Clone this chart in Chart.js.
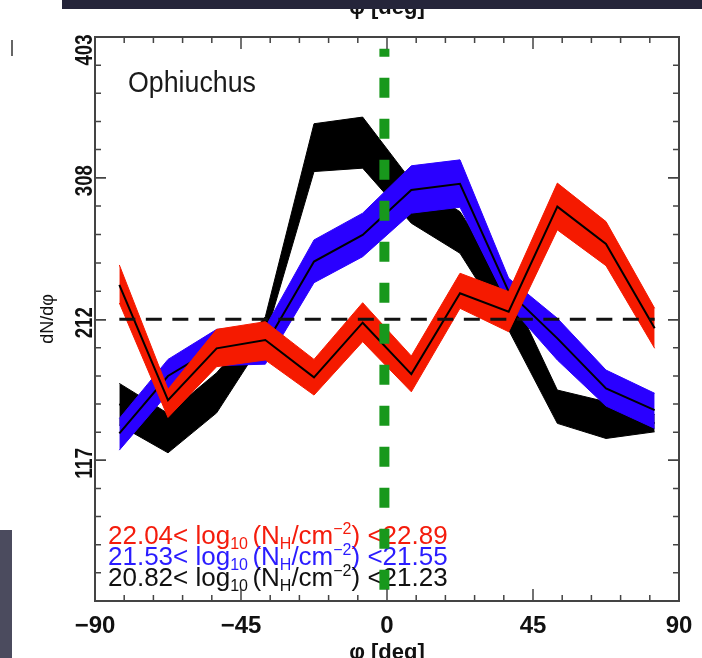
<!DOCTYPE html>
<html lang="en">
<head>
  <meta charset="UTF-8">
  <title>Ophiuchus dN/dphi</title>
  <script src="https://cdn.jsdelivr.net/npm/chart.js@4"></script>
  <style>
    body { margin: 0; background: #fff; }
    #wrap { position: relative; width: 702px; height: 658px; overflow: hidden; }
    #topbar { position: absolute; left: 62px; top: 0; width: 640px; height: 9px; background: #25253a; }
    #sideblock { position: absolute; left: 0; top: 530px; width: 12px; height: 128px; background: #4b4b5e; }
    #mark { position: absolute; left: 11px; top: 40px; width: 2px; height: 16px; background: #666; }
  </style>
</head>
<body>
  <div id="wrap">
    <canvas id="phiChart" width="702" height="658"></canvas>
    <div id="topbar"></div>
    <div id="sideblock"></div>
    <div id="mark"></div>
  </div>

  <script>
    // bin centres [deg]
    const phi = [-82.5, -67.5, -52.5, -37.5, -22.5, -7.5, 7.5, 22.5, 37.5, 52.5, 67.5, 82.5];

    // 22.04 < log NH < 22.89
    const redMid = [235.5, 157.7, 192.7, 198.3, 173.1, 210.0, 175.3, 229.9, 217.4, 288.4, 263.2, 206.2];
    const redHi  = [249.0, 165.0, 205.5, 210.7, 185.2, 223.5, 187.5, 243.4, 231.0, 304.3, 278.3, 219.7];
    const redLo  = [223.3, 146.0, 180.3, 184.8, 161.1, 197.2, 163.3, 219.7, 203.9, 272.7, 248.5, 192.7];

    // 21.53 < log NH < 21.55
    const blueMid = [135.2, 174.0, 193.8, 194.9, 251.3, 269.3, 299.7, 303.8, 231.0, 199.4, 165.6, 151.0];
    const blueHi  = [145.3, 185.2, 205.5, 207.0, 265.9, 284.0, 316.0, 320.0, 240.0, 213.0, 178.0, 162.3];
    const blueLo  = [123.9, 162.3, 181.0, 182.0, 237.0, 254.6, 284.0, 288.0, 222.0, 184.8, 153.7, 138.6];

    // 20.82 < log NH < 21.23
    const blackHi  = [169.0, 148.7, 176.2, 214.0, 344.4, 348.9, 305.8, 285.0, 234.3, 164.5, 156.6, 148.0];
    const blackLo  = [140.8, 122.1, 149.1, 200.0, 312.1, 314.4, 277.2, 256.9, 205.0, 142.0, 131.8, 136.3];
    const blackMid = [155.0, 135.4, 162.7, 207.0, 328.3, 331.7, 291.5, 271.0, 219.7, 153.3, 144.2, 142.2];

    const meanLevel = 212.3;
    const centrePhi = -0.8;
    const centreTop = 395;

    const xTicks = [-90, -45, 0, 45, 90];
    const yTicks = [117, 212, 308, 403];
    const yMin = 22, yMax = 403;

    const legendRows = [
      { lo: '22.04', hi: '22.89', color: '#f41c0c' },
      { lo: '21.53', hi: '21.55', color: '#2a1cff' },
      { lo: '20.82', hi: '21.23', color: '#111111' }
    ];

    const RED = '#f51a00', BLUE = '#2a00ff', BLACK = '#000000', GREEN = '#18981c';
    const pts = arr => arr.map((v, i) => ({ x: phi[i], y: v }));

    function band(hi, lo, color, order) {
      return [
        { data: pts(hi), borderColor: color, backgroundColor: color, borderWidth: 1, fill: '+1', order: order },
        { data: pts(lo), borderColor: color, backgroundColor: color, borderWidth: 1, fill: false, order: order + 1 }
      ];
    }

    const datasets = [
      { data: [{ x: centrePhi, y: centreTop }, { x: centrePhi, y: yMin }], borderColor: GREEN, borderWidth: 10,
        borderDash: [20, 21], borderDashOffset: 12, borderCapStyle: 'butt', order: 0 },
      { data: [{ x: phi[0], y: meanLevel }, { x: phi[phi.length - 1], y: meanLevel }], borderColor: '#111',
        borderWidth: 3, borderDash: [16, 10.5], order: 1 },
      { data: pts(redMid), borderColor: BLACK, borderWidth: 2, order: 2 },
      ...band(redHi, redLo, RED, 3),
      { data: pts(blueMid), borderColor: BLACK, borderWidth: 2, order: 5 },
      ...band(blueHi, blueLo, BLUE, 6),
      { data: pts(blackMid), borderColor: BLACK, borderWidth: 2, order: 8 },
      ...band(blackHi, blackLo, BLACK, 9)
    ];

    function drawRich(ctx, x, y, parts) {
      parts.forEach(p => {
        ctx.font = p.font;
        ctx.fillText(p.t, x, y + (p.dy || 0));
        x += ctx.measureText(p.t).width;
      });
    }

    const texts = {
      id: 'texts',
      beforeDatasetsDraw(chart) {
        const ctx = chart.ctx;
        ctx.save();
        ctx.textAlign = 'left';
        ctx.textBaseline = 'alphabetic';
        ctx.fillStyle = '#1a1a1a';
        ctx.font = '30px "Liberation Sans", Arial, sans-serif';
        ctx.fillText('Ophiuchus', 128, 92, 128);

        const big = '26px "Liberation Sans", Arial, sans-serif';
        const small = '16px "Liberation Sans", Arial, sans-serif';
        legendRows.forEach((r, i) => {
          ctx.fillStyle = r.color;
          drawRich(ctx, 108, 544 + i * 21, [
            { t: r.lo + '< ', font: big },
            { t: 'log', font: big },
            { t: '10 ', font: small, dy: 5 },
            { t: '(N', font: big },
            { t: 'H', font: small, dy: 5 },
            { t: '/cm', font: big },
            { t: '\u22122', font: small, dy: -10 },
            { t: ') <' + r.hi, font: big }
          ]);
        });
        ctx.restore();
      }
    };

    const frame = {
      id: 'frame',
      afterDatasetsDraw(chart) {
        const { ctx, chartArea: a, scales: { x, y } } = chart;
        ctx.save();
        ctx.strokeStyle = '#444';
        ctx.lineWidth = 1.5;

        // x ticks, top and bottom, every 9 deg
        for (let v = -90; v <= 90; v += 9) {
          const px = x.getPixelForValue(v);
          const len = v % 45 === 0 ? 12 : 6;
          ctx.beginPath();
          ctx.moveTo(px, a.bottom); ctx.lineTo(px, a.bottom - len);
          ctx.moveTo(px, a.top); ctx.lineTo(px, a.top + len);
          ctx.stroke();
        }
        // y ticks, left and right, 5 minor steps between majors
        const edges = [yMin, ...yTicks];
        for (let k = 0; k < edges.length - 1; k++) {
          for (let j = 0; j <= 5; j++) {
            const v = edges[k] + (edges[k + 1] - edges[k]) * j / 5;
            const py = y.getPixelForValue(v);
            const len = (j === 0 && k > 0) || j === 5 ? 11 : 6;
            ctx.beginPath();
            ctx.moveTo(a.left, py); ctx.lineTo(a.left + len, py);
            ctx.moveTo(a.right, py); ctx.lineTo(a.right - len, py);
            ctx.stroke();
          }
        }
        ctx.lineWidth = 2;
        ctx.strokeRect(a.left, a.top, a.right - a.left, a.bottom - a.top);

        // tick labels
        ctx.fillStyle = '#111';
        ctx.textAlign = 'center';
        ctx.textBaseline = 'alphabetic';
        ctx.font = 'bold 24px "Liberation Sans", Arial, sans-serif';
        xTicks.forEach(v => {
          ctx.fillText(v < 0 ? '\u2212' + Math.abs(v) : String(v), x.getPixelForValue(v), 633);
        });
        yTicks.forEach(v => {
          const py = v === yMax ? 50 : y.getPixelForValue(v) + 3;
          ctx.save();
          ctx.translate(92, py);
          ctx.rotate(-Math.PI / 2);
          ctx.fillText(String(v), 0, 0, 31);
          ctx.restore();
        });

        // axis titles
        ctx.font = 'bold 22px "Liberation Sans", Arial, sans-serif';
        ctx.fillText('\u03c6 [deg]', (a.left + a.right) / 2, 659);
        ctx.save();
        ctx.translate(53, (a.top + a.bottom) / 2);
        ctx.rotate(-Math.PI / 2);
        ctx.font = '18px "Liberation Sans", Arial, sans-serif';
        ctx.fillText('dN/d\u03c6', 0, 0);
        ctx.restore();

        // cut-off title of the panel above
        ctx.font = 'bold 22px "Liberation Sans", Arial, sans-serif';
        ctx.fillText('\u03c6 [deg]', 387, 14);
        ctx.restore();
      }
    };

    new Chart(document.getElementById('phiChart').getContext('2d'), {
      type: 'line',
      data: { datasets: datasets },
      options: {
        responsive: false,
        animation: false,
        devicePixelRatio: 1,
        layout: { padding: { left: 95, top: 37, right: 23, bottom: 57 } },
        elements: { point: { radius: 0 }, line: { tension: 0 } },
        plugins: { legend: { display: false }, tooltip: { enabled: false } },
        scales: {
          x: { type: 'linear', min: -90, max: 90, display: false },
          y: { type: 'linear', min: yMin, max: yMax, display: false }
        }
      },
      plugins: [texts, frame]
    });
  </script>
</body>
</html>
